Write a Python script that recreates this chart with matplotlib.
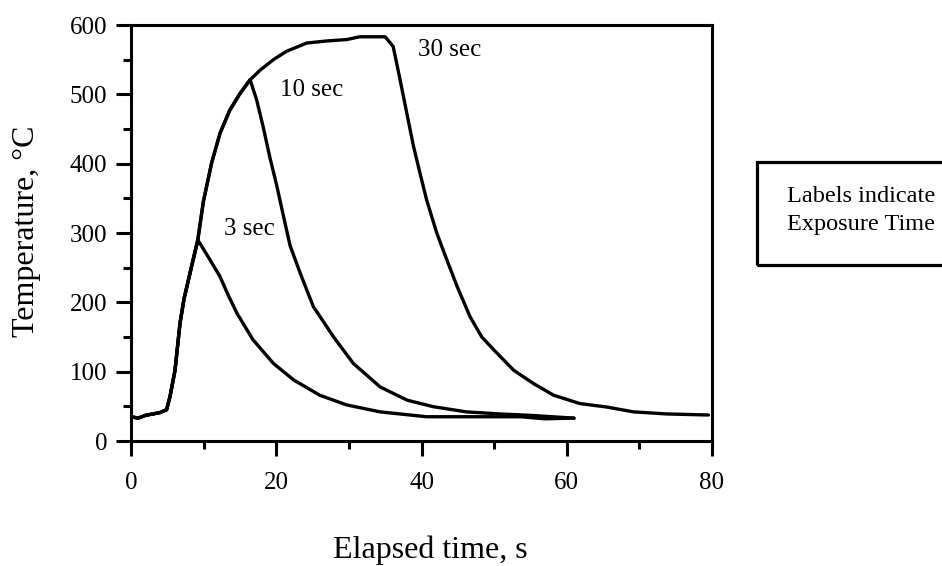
import matplotlib
matplotlib.use("Agg")
import matplotlib.pyplot as plt
from matplotlib.patches import Rectangle
from matplotlib.ticker import MultipleLocator

plt.rcParams['font.family'] = ['Liberation Serif', 'DejaVu Serif']

# Common heating curve (shared by all exposures)
heat_t = [0.0, 1.0, 2.0, 3.0, 4.0, 4.9, 5.37, 6.06, 6.75, 7.3, 8.3, 9.2, 9.96, 11.1,
          12.26, 13.6, 15.0, 16.4, 17.8, 19.6, 21.4, 24.2, 27.0, 29.7, 31.5, 35.0]
heat_T = [35, 33, 37, 39, 41, 45, 64, 102, 170, 205, 250, 290, 345, 401,
          444, 477, 501, 521, 535, 550, 562, 574, 577, 579, 583, 583]

# Cooling curves after each exposure (start right after the peak)
cool3_t = [10.9, 12.26, 13.4, 14.6, 16.8, 19.6, 22.4, 26.0, 29.7, 34.3, 40.7, 47.0, 53.6, 57.0, 61.0]
cool3_T = [261, 237, 210, 184, 146, 112, 88, 66, 52, 42, 35, 35, 35, 32, 33]

cool10_t = [17.3, 18.2, 19.1, 20.1, 21.0, 21.9, 23.3, 25.1, 27.9, 30.6, 34.3,
            38.0, 41.6, 46.2, 50.8, 55.0, 61.0]
cool10_T = [492, 453, 410, 367, 324, 282, 242, 194, 150, 112, 78,
            59, 49.5, 42, 39, 37, 33]

cool30_t = [36.1, 37.05, 37.97, 38.9, 39.8, 40.7, 42.1, 43.5, 44.9, 46.7, 48.3,
            50.0, 52.7, 55.4, 58.2, 61.8, 65.5, 69.2, 73.8, 79.5]
cool30_T = [569, 521, 473, 425, 386, 348, 300, 261, 223, 179, 150,
            131, 102, 83, 66, 54, 49, 42, 39, 37.5]

peak_times = [9.2, 16.4, 35.0]
labels = ["3 sec", "10 sec", "30 sec"]
label_x = [16.3, 24.9, 43.9]
label_y = [306, 506, 564]

x_ticks = [0, 20, 40, 60, 80]
y_ticks = [0, 100, 200, 300, 400, 500, 600]

fig = plt.figure(figsize=(9.42, 5.66), dpi=100)
ax = fig.add_axes([131/942, 1 - 441/566, 581/942, 416/566])


def series(peak, ct, cT):
    idx = [i for i, v in enumerate(heat_t) if v <= peak]
    return [heat_t[i] for i in idx] + ct, [heat_T[i] for i in idx] + cT


for peak, (ct, cT) in zip(peak_times, [(cool3_t, cool3_T), (cool10_t, cool10_T), (cool30_t, cool30_T)]):
    t, T = series(peak, ct, cT)
    ax.plot(t, T, color='black', lw=2.4, solid_joinstyle='round', solid_capstyle='round')

for lab, lx, ly in zip(labels, label_x, label_y):
    ax.text(lx, ly, lab, ha='center', va='center', fontsize=18)

ax.set_xlim(0, 80)
ax.set_ylim(0, 600)
ax.set_xticks(x_ticks)
ax.set_yticks(y_ticks)
ax.xaxis.set_minor_locator(MultipleLocator(10))
ax.yaxis.set_minor_locator(MultipleLocator(50))
ax.tick_params(axis='both', which='major', direction='out', length=11, width=2.2,
               labelsize=18, colors='black')
ax.tick_params(axis='both', which='minor', direction='out', length=6, width=2.2)
ax.tick_params(axis='x', which='major', pad=11)
ax.tick_params(axis='y', which='major', pad=6)
for s in ax.spines.values():
    s.set_linewidth(2.2)
    s.set_color('black')

ax.set_xlabel("Elapsed time, s", fontsize=23, va='center')
ax.xaxis.set_label_coords(0.516, -0.262)
ax.set_ylabel("Temperature, °C", fontsize=23, va='center')
ax.yaxis.set_label_coords(-0.18, 0.505)

# Note box (extends past the right edge of the figure)
rect = Rectangle((757/942, 1 - 265/566), 220/942, 103/566, transform=fig.transFigure,
                 fill=False, edgecolor='black', lw=2.3, clip_on=False)
fig.patches.append(rect)
fig.text(787/942, 1 - 196/566, "Labels indicate", fontsize=17.5, va='center', ha='left')
fig.text(787/942, 1 - 225/566, "Exposure Time", fontsize=17.5, va='center', ha='left')

fig.savefig("out.png", dpi=100)
